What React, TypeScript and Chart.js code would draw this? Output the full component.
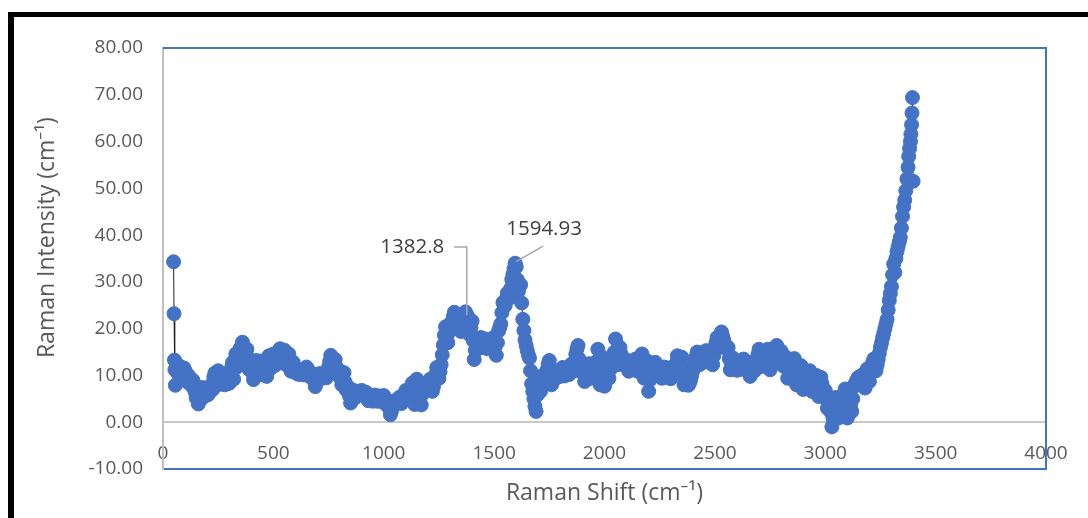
import { useEffect, useRef } from "react";
import { Chart, registerables } from "chart.js";

Chart.register(...registerables);

// Raman shift (cm-1)
const ramanShift: number[] = [
  48, 50, 52, 54, 56,
  60, 65, 70, 75, 80, 85, 90, 95, 100, 105, 110, 115, 120, 125, 130, 135, 140, 145, 150, 155,
  160, 165, 170, 175, 180, 185, 190, 195, 200, 205, 210, 215, 220, 225, 230, 235, 240, 245, 250, 255,
  260, 265, 270, 275, 280, 285, 290, 295, 300, 305, 310, 315, 320, 325, 330, 335, 340, 345, 350, 355,
  360, 365, 370, 375, 380, 385, 390, 395, 400, 405, 410, 415, 420, 425, 430, 435, 440, 445, 450, 455,
  460, 465, 470, 475, 480, 485, 490, 495, 500, 505, 510, 515, 520, 525, 530, 535, 540, 545, 550, 555,
  560, 565, 570, 575, 580, 585, 590, 595, 600, 605, 610, 615, 620, 625, 630, 635, 640, 645, 650, 655,
  660, 665, 670, 675, 680, 685, 690, 695, 700, 705, 710, 715, 720, 725, 730, 735, 740, 745, 750, 755,
  760, 765, 770, 775, 780, 785, 790, 795, 800, 805, 810, 815, 820, 825, 830, 835, 840, 845, 850, 855,
  860, 865, 870, 875, 880, 885, 890, 895, 900, 905, 910, 915, 920, 925, 930, 935, 940, 945, 950, 955,
  960, 965, 970, 975, 980, 985, 990, 995, 1000, 1005, 1010, 1015, 1020, 1025, 1030, 1035, 1040, 1045, 1050, 1055,
  1060, 1065, 1070, 1075, 1080, 1085, 1090, 1095, 1100, 1105, 1110, 1115, 1120, 1125, 1130, 1135, 1140, 1145, 1150, 1155,
  1160, 1165, 1170, 1175, 1180, 1185, 1190, 1195, 1200, 1205, 1210, 1215, 1220, 1225, 1230, 1235, 1240, 1245, 1250, 1255,
  1260, 1265, 1270, 1275, 1280, 1285, 1290, 1295, 1300, 1305, 1310, 1315, 1320, 1325, 1330, 1335, 1340, 1345, 1350, 1355,
  1360, 1365, 1370, 1376, 1382.8, 1386, 1390, 1395, 1400, 1405, 1410, 1415, 1420, 1425, 1430, 1435, 1440, 1445, 1450, 1455,
  1460, 1465, 1470, 1475, 1480, 1485, 1490, 1495, 1500, 1505, 1510, 1515, 1520, 1525, 1530, 1535, 1540, 1545, 1550, 1555,
  1560, 1565, 1570, 1575, 1580, 1585, 1590, 1594.93, 1597, 1600, 1605, 1610, 1615, 1620, 1625, 1630, 1635, 1640, 1645, 1650, 1655,
  1660, 1665, 1670, 1675, 1680, 1685, 1690, 1695, 1700, 1705, 1710, 1715, 1720, 1725, 1730, 1735, 1740, 1745, 1750, 1755,
  1760, 1765, 1770, 1775, 1780, 1785, 1790, 1795, 1800, 1805, 1810, 1815, 1820, 1825, 1830, 1835, 1840, 1845, 1850, 1855,
  1860, 1865, 1870, 1875, 1880, 1885, 1890, 1895, 1900, 1905, 1910, 1915, 1920, 1925, 1930, 1935, 1940, 1945, 1950, 1955,
  1960, 1965, 1970, 1975, 1980, 1985, 1990, 1995, 2000, 2005, 2010, 2015, 2020, 2025, 2030, 2035, 2040, 2045, 2050, 2055,
  2060, 2065, 2070, 2075, 2080, 2085, 2090, 2095, 2100, 2105, 2110, 2115, 2120, 2125, 2130, 2135, 2140, 2145, 2150, 2155,
  2160, 2165, 2170, 2175, 2180, 2185, 2190, 2195, 2200, 2205, 2210, 2215, 2220, 2225, 2230, 2235, 2240, 2245, 2250, 2255,
  2260, 2265, 2270, 2275, 2280, 2285, 2290, 2295, 2300, 2305, 2310, 2315, 2320, 2325, 2330, 2335, 2340, 2345, 2350, 2355,
  2360, 2365, 2370, 2375, 2380, 2385, 2390, 2395, 2400, 2405, 2410, 2415, 2420, 2425, 2430, 2435, 2440, 2445, 2450, 2455,
  2460, 2465, 2470, 2475, 2480, 2485, 2490, 2495, 2500, 2505, 2510, 2515, 2520, 2525, 2530, 2535, 2540, 2545, 2550, 2555,
  2560, 2565, 2570, 2575, 2580, 2585, 2590, 2595, 2600, 2605, 2610, 2615, 2620, 2625, 2630, 2635, 2640, 2645, 2650, 2655,
  2660, 2665, 2670, 2675, 2680, 2685, 2690, 2695, 2700, 2705, 2710, 2715, 2720, 2725, 2730, 2735, 2740, 2745, 2750, 2755,
  2760, 2765, 2770, 2775, 2780, 2785, 2790, 2795, 2800, 2805, 2810, 2815, 2820, 2825, 2830, 2835, 2840, 2845, 2850, 2855,
  2860, 2865, 2870, 2875, 2880, 2885, 2890, 2895, 2900, 2905, 2910, 2915, 2920, 2925, 2930, 2935, 2940, 2945, 2950, 2955,
  2960, 2965, 2970, 2975, 2980, 2985, 2990, 2995, 3000, 3005, 3010, 3015, 3020, 3025, 3030, 3035, 3040, 3045, 3050, 3055,
  3060, 3065, 3070, 3075, 3080, 3085, 3090, 3095, 3100, 3105, 3110, 3115, 3120, 3125, 3130, 3135, 3140, 3145, 3150, 3155,
  3160, 3165, 3170, 3175, 3180, 3185, 3190, 3195, 3200, 3205, 3210, 3215, 3220, 3225, 3230, 3235, 3240, 3245, 3250, 3255,
  3260, 3265, 3270, 3275, 3280, 3285, 3290, 3295, 3300, 3305, 3310, 3315, 3320, 3325, 3330, 3335,
  3340, 3345, 3350, 3355, 3360, 3365, 3370, 3375, 3378, 3382, 3386, 3388, 3391, 3393, 3395, 3398,
];

// Raman intensity
const ramanIntensity: number[] = [
  34.3, 23.2, 13.3, 11.2, 7.9,
  12.6, 11.0, 10.2, 12.0, 11.5, 9.8, 10.4, 11.6, 11.0, 9.6, 8.6, 10.0, 9.3, 8.5, 7.8, 9.0, 8.4, 6.5, 5.2, 6.8,
  3.9, 5.5, 6.8, 5.0, 7.4, 6.3, 5.6, 7.2, 7.1, 5.9, 6.4, 7.5, 8.0, 7.0, 9.6, 10.5, 8.2, 9.4, 11.0, 9.6,
  8.4, 8.1, 9.9, 9.0, 8.0, 9.2, 10.0, 9.1, 8.3, 10.2, 11.6, 12.8, 9.2, 11.4, 14.6, 13.5, 12.0, 14.0, 15.8, 14.2,
  17.1, 16.2, 13.2, 14.8, 15.6, 13.0, 11.3, 12.2, 12.8, 10.6, 9.1, 11.4, 13.2, 12.0, 10.5, 12.0, 13.1, 11.6, 10.2, 11.4,
  12.6, 11.0, 9.8, 11.8, 14.2, 12.8, 11.6, 13.2, 14.6, 13.4, 12.2, 14.4, 13.6, 14.2, 15.7, 14.4, 13.0, 14.0, 15.4, 13.8,
  12.2, 13.4, 14.6, 12.7, 10.9, 11.8, 12.8, 11.5, 10.6, 11.0, 10.3, 10.6, 10.2, 10.8, 11.2, 10.4, 10.1, 11.0, 11.8, 11.4,
  10.9, 10.2, 9.6, 10.4, 10.3, 8.8, 7.6, 8.4, 9.2, 9.8, 10.4, 9.7, 9.4, 9.8, 10.3, 9.9, 9.5, 10.6, 11.8, 13.0,
  14.3, 13.0, 12.1, 12.8, 13.4, 11.8, 10.2, 10.6, 11.0, 9.4, 8.0, 9.2, 10.6, 8.6, 6.9, 7.6, 7.4, 5.6, 4.1, 5.4,
  6.9, 6.0, 5.2, 6.0, 6.6, 6.2, 5.9, 6.4, 6.8, 6.2, 5.8, 6.2, 6.4, 5.4, 4.6, 5.2, 5.7, 5.0, 4.5, 5.2,
  5.8, 5.0, 4.5, 5.1, 5.6, 4.9, 4.4, 5.0, 5.7, 4.6, 3.8, 4.2, 4.5, 3.0, 1.6, 2.4, 3.2, 4.0, 4.6, 4.4,
  4.1, 4.8, 5.3, 4.6, 4.0, 4.8, 5.5, 6.2, 6.8, 6.0, 5.2, 5.8, 6.5, 7.6, 8.4, 6.0, 3.8, 6.4, 9.2, 8.4,
  7.4, 5.4, 3.7, 6.0, 8.2, 7.5, 6.8, 7.4, 7.9, 8.6, 9.2, 7.8, 6.6, 7.6, 8.7, 10.2, 11.7, 10.4, 9.4, 10.8,
  12.3, 14.4, 16.5, 18.6, 20.4, 18.5, 17.0, 19.2, 21.0, 20.4, 21.6, 22.6, 23.5, 22.4, 21.5, 22.0, 22.4, 20.6, 19.4, 20.4,
  21.2, 22.4, 23.6, 23.0, 22.4, 20.4, 18.7, 20.2, 21.6, 17.5, 13.4, 15.4, 17.2, 16.4, 15.8, 17.0, 18.1, 17.0, 16.0, 16.8,
  17.8, 16.6, 15.7, 16.6, 17.6, 16.8, 16.2, 17.2, 18.2, 16.2, 14.3, 17.0, 19.5, 20.2, 21.0, 23.4, 25.6, 25.0, 24.9, 26.4,
  27.6, 27.0, 26.5, 28.6, 30.5, 31.6, 32.8, 34.0, 33.6, 33.2, 30.5, 28.0, 29.0, 29.4, 25.5, 22.0, 19.6, 17.6, 16.4, 15.3, 14.4,
  13.7, 11.0, 8.2, 6.6, 5.0, 3.4, 2.3, 5.8, 9.6, 8.0, 6.6, 8.2, 10.0, 9.0, 8.1, 9.6, 11.2, 12.4, 13.2, 10.6,
  8.0, 9.4, 10.6, 10.0, 9.4, 10.2, 11.0, 10.4, 9.8, 10.8, 11.7, 10.8, 9.9, 10.6, 11.5, 10.9, 10.2, 11.3, 12.4, 11.6,
  11.0, 12.8, 14.5, 15.6, 16.4, 13.5, 10.9, 11.6, 12.4, 10.5, 8.7, 10.0, 11.2, 11.9, 12.5, 11.0, 9.4, 10.8, 12.0, 11.2,
  10.5, 13.0, 15.6, 11.8, 8.0, 11.0, 13.9, 10.8, 7.7, 9.6, 11.6, 10.5, 9.4, 11.2, 13.2, 12.8, 12.3, 15.0, 17.8, 15.0,
  12.3, 14.2, 16.0, 14.6, 13.1, 12.6, 12.2, 12.8, 13.3, 12.1, 10.9, 11.8, 12.6, 12.0, 11.4, 12.4, 13.5, 12.2, 10.9, 11.8,
  12.8, 13.7, 14.6, 12.0, 9.4, 11.3, 13.2, 9.9, 6.6, 9.0, 11.5, 10.8, 10.2, 11.5, 12.8, 11.6, 10.4, 11.0, 11.7, 10.6,
  9.4, 10.6, 11.8, 10.7, 9.6, 10.6, 11.6, 10.4, 9.3, 10.2, 11.2, 11.0, 10.9, 12.6, 14.2, 12.6, 11.0, 12.4, 13.9, 11.0,
  8.0, 9.3, 10.6, 9.2, 7.9, 8.4, 9.0, 10.0, 11.0, 12.0, 13.0, 14.0, 15.0, 13.6, 12.3, 13.4, 14.6, 13.7, 12.8, 14.0,
  15.3, 14.2, 13.0, 13.9, 14.8, 13.5, 12.3, 14.2, 16.0, 17.0, 18.1, 17.0, 16.0, 17.6, 19.3, 18.4, 17.6, 16.7, 15.8, 15.9,
  16.0, 13.6, 11.2, 12.5, 13.8, 13.1, 12.4, 11.8, 11.1, 11.8, 12.5, 11.9, 11.3, 12.4, 13.5, 12.3, 11.2, 11.9, 12.6, 11.2,
  9.8, 11.3, 12.8, 11.9, 11.0, 12.2, 13.4, 14.5, 15.6, 13.7, 11.9, 13.0, 14.2, 13.3, 12.4, 14.0, 15.6, 13.4, 11.2, 12.5,
  13.8, 14.4, 15.0, 15.7, 16.4, 14.7, 13.0, 14.1, 15.2, 13.6, 12.0, 13.0, 14.0, 11.7, 9.4, 11.0, 12.6, 11.4, 10.2, 11.9,
  13.6, 10.8, 8.0, 9.6, 11.2, 11.6, 12.1, 9.5, 7.0, 8.7, 10.4, 9.5, 8.6, 9.8, 11.0, 8.8, 6.6, 7.9, 9.2, 9.6,
  10.0, 7.8, 5.5, 7.6, 9.6, 8.3, 7.0, 6.9, 6.8, 4.9, 3.0, 4.2, 5.3, 2.2, -1.0, 0.8, 2.5, 3.9, 5.3, 3.1,
  0.9, 2.6, 4.2, 3.4, 2.6, 4.9, 7.1, 4.0, 0.9, 3.2, 5.4, 3.8, 2.3, 5.0, 7.6, 8.2, 8.7, 9.2, 9.6, 9.3,
  9.0, 9.6, 10.2, 8.8, 7.3, 9.4, 11.4, 10.0, 8.7, 10.4, 12.0, 12.8, 13.5, 12.2, 11.0, 12.2, 13.4, 14.7, 16.0, 17.0,
  18.1, 19.0, 20.0, 21.0, 22.0, 24.0, 26.0, 27.5, 29.0, 31.5, 33.8, 32.0, 35.0, 36.5, 37.5, 38.5,
  39.5, 41.5, 44.0, 46.0, 47.5, 49.5, 52.0, 54.5, 56.8, 58.5, 60.0, 61.6, 63.6, 66.1, 69.4, 51.5,
];

// Labelled peaks
const peakShifts: number[] = [1382.8, 1594.93];

// Axis ranges
const xRange = [0, 4000];
const xStep = 500;
const yRange = [-10, 80];
const yStep = 10;

const BLUE = "#4472C4";
const TEXT_GRAY = "#595959";
const LABEL_DARK = "#404040";
const FONT = "'Open Sans', 'Noto Sans', sans-serif";

// label placement relative to the point (style only)
const labelLayout = [
  { dx: -56, dy: -70, leader: [[-14, -70.5], [-1.5, -70.5], [-1.5, -2]] },
  { dx: 29, dy: -34, leader: [[28, -17], [1, -1.5]] },
];

const framePlugin = {
  id: "plotFrame",
  beforeDatasetsDraw(chart: any) {
    const { ctx, chartArea: a } = chart;
    ctx.save();
    ctx.strokeStyle = BLUE;
    ctx.lineWidth = 2;
    ctx.beginPath();
    ctx.moveTo(a.left, a.top);
    ctx.lineTo(a.right, a.top);
    ctx.lineTo(a.right, a.bottom);
    ctx.stroke();
    ctx.restore();
  },
};

const peakLabelPlugin = {
  id: "peakLabels",
  afterDatasetsDraw(chart: any) {
    const { ctx } = chart;
    const xs = chart.scales.x;
    const ys = chart.scales.y;
    ctx.save();
    peakShifts.forEach((s, i) => {
      const idx = ramanShift.indexOf(s);
      const px = xs.getPixelForValue(s);
      const py = ys.getPixelForValue(ramanIntensity[idx]);
      const L = labelLayout[i];
      ctx.strokeStyle = "#A6A6A6";
      ctx.lineWidth = 1.5;
      ctx.beginPath();
      L.leader.forEach(([dx, dy], k) => {
        if (k === 0) ctx.moveTo(px + dx, py + dy);
        else ctx.lineTo(px + dx, py + dy);
      });
      ctx.stroke();
      ctx.fillStyle = LABEL_DARK;
      ctx.font = `20.5px ${FONT}`;
      ctx.textAlign = "center";
      ctx.textBaseline = "middle";
      ctx.fillText(String(s), px + L.dx, py + L.dy);
    });
    ctx.restore();
  },
};

export default function App() {
  const ref = useRef<HTMLCanvasElement>(null);

  useEffect(() => {
    const canvas = ref.current;
    if (!canvas) return;
    const chart = new Chart(canvas, {
      type: "scatter",
      data: {
        datasets: [
          {
            data: ramanShift.map((s, i) => ({ x: s, y: ramanIntensity[i] })),
            showLine: true,
            borderColor: "#1f1f1f",
            borderWidth: 1,
            pointRadius: 7,
            pointHoverRadius: 7,
            pointBackgroundColor: BLUE,
            pointBorderColor: BLUE,
            pointBorderWidth: 1,
          },
        ],
      },
      options: {
        responsive: false,
        animation: false,
        devicePixelRatio: 1,
        events: [],
        layout: { padding: { left: 0, top: 48, right: 42, bottom: 0 } },
        plugins: { legend: { display: false }, tooltip: { enabled: false } },
        scales: {
          x: {
            type: "linear",
            position: "bottom",
            min: xRange[0],
            max: xRange[1],
            ticks: {
              stepSize: xStep,
              callback: (v: any) => String(v),
              color: TEXT_GRAY,
              font: { family: FONT, size: 19 },
              mirror: true,
              padding: 4,
              maxRotation: 0,
              autoSkip: false,
            },
            grid: { display: false, drawTicks: false },
            border: { display: true, color: BLUE, width: 2 },
            title: {
              display: true,
              text: "Raman Shift (cm⁻¹)",
              color: TEXT_GRAY,
              font: { family: FONT, size: 23 },
              padding: { top: 0, bottom: 11 },
            },
            afterFit: (s: any) => {
              s.height = 49;
            },
          },
          y: {
            type: "linear",
            min: yRange[0],
            max: yRange[1],
            ticks: {
              stepSize: yStep,
              callback: (v: any) => Number(v).toFixed(2),
              color: TEXT_GRAY,
              font: { family: FONT, size: 19 },
              padding: 20,
            },
            grid: {
              drawTicks: false,
              lineWidth: 2,
              color: (c: any) =>
                c.tick && c.tick.value === 0 ? "#C8C8C8" : "rgba(0,0,0,0)",
            },
            border: { display: true, color: "#C0C0C0", width: 2 },
            title: {
              display: true,
              text: "       Raman Intensity (cm⁻¹)",
              color: TEXT_GRAY,
              font: { family: FONT, size: 23 },
              padding: { top: 34, bottom: 0 },
            },
            afterFit: (s: any) => {
              s.width = 163;
            },
          },
        },
      },
      plugins: [framePlugin, peakLabelPlugin],
    } as any);
    return () => chart.destroy();
  }, []);

  return (
    <div
      style={{
        position: "fixed",
        left: 0,
        top: 0,
        width: 1088,
        height: 518,
        overflow: "hidden",
        background: "#fff",
      }}
    >
      <canvas
        ref={ref}
        width={1088}
        height={518}
        style={{ position: "absolute", left: 0, top: 0, width: 1088, height: 518 }}
      />
      <div
        style={{
          position: "absolute",
          left: 8,
          top: 12,
          width: 1200,
          height: 600,
          borderTop: "5px solid #000",
          borderLeft: "6px solid #000",
          pointerEvents: "none",
        }}
      />
    </div>
  );
}
